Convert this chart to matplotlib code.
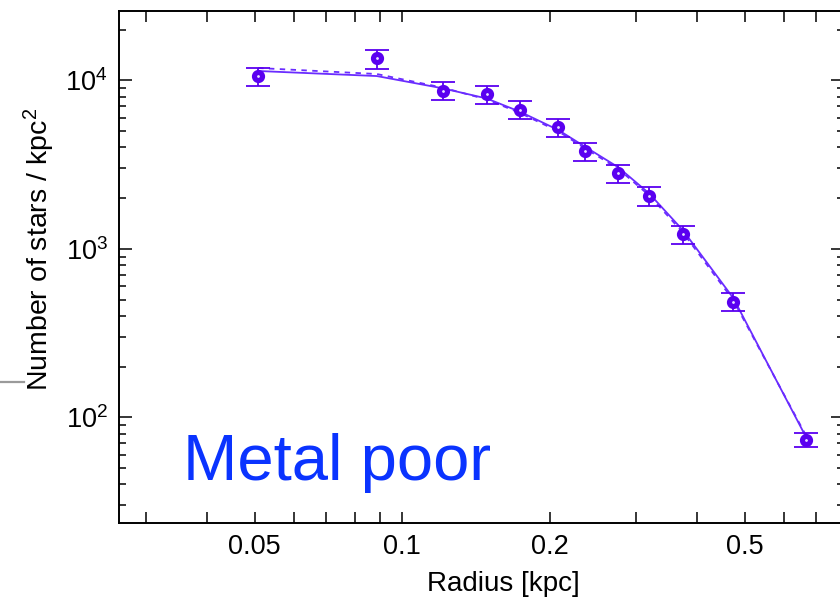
import matplotlib
matplotlib.use("Agg")
import matplotlib.pyplot as plt
from matplotlib.lines import Line2D
import numpy as np

# ---- data ----
radius = [0.0508, 0.0887, 0.1209, 0.1487, 0.1739, 0.2082, 0.2360, 0.2760, 0.3188, 0.3734, 0.4738, 0.6667]
density = [10650, 13510, 8675, 8260, 6665, 5305, 3805, 2829, 2057, 1219, 485, 73.3]
err_hi = [11880, 15130, 9810, 9290, 7540, 5920, 4262, 3155, 2317, 1371, 546, 80.4]
err_lo = [9290, 11720, 7640, 7265, 5870, 4627, 3333, 2468, 1795, 1068, 426, 66.7]
model_solid = [11357, 10600, 8965, 7800, 6510, 5070, 4036, 3046, 2135, 1294, 510, 76.4]
model_dashed = [11830, 10900, 9050, 7700, 6400, 4980, 3950, 2980, 2080, 1255, 495, 78.0]

xtick_vals = [0.03, 0.04, 0.05, 0.06, 0.07, 0.08, 0.09, 0.1, 0.2, 0.3, 0.4, 0.5, 0.6, 0.7]
xtick_labels = {0.05: "0.05", 0.1: "0.1", 0.2: "0.2", 0.5: "0.5"}
ytick_vals = [1e2, 1e3, 1e4]
ytick_labels = [r"$10^2$", r"$10^3$", r"$10^4$"]

plt.rcParams['font.family'] = ['Liberation Sans', 'DejaVu Sans']
plt.rcParams['mathtext.fontset'] = 'custom'
plt.rcParams['mathtext.rm'] = 'Liberation Sans'
plt.rcParams['mathtext.it'] = 'Liberation Sans'

fig = plt.figure(figsize=(8.4, 6.01), dpi=100)
ax = fig.add_axes([119/840, 78/601, (844-119)/840, (523-11)/601])

line_col = '#6a2cff'
pt_col = '#5a00f0'

ax.plot(radius, model_solid, '-', color=line_col, lw=1.3, zorder=2)
ax.plot(radius, model_dashed, '--', color=line_col, lw=1.3, dashes=(3, 3), zorder=2)

d = np.array(density)
yerr = np.array([d - np.array(err_lo), np.array(err_hi) - d])
ax.errorbar(radius, density, yerr=yerr, fmt='none', ecolor=pt_col, elinewidth=1.3,
            capsize=8.6, capthick=1.3, zorder=3)
ax.plot(radius, density, 'o', ms=5.8, mfc='#e8e0ff', mec=pt_col, mew=3.7, ls='none', zorder=4)

ax.set_xscale('log')
ax.set_yscale('log')
ax.set_xlim(0.02642, 0.797)
ax.set_ylim(23.6, 25780)

ax.set_xticks(xtick_vals)
ax.set_xticklabels([xtick_labels.get(v, "") for v in xtick_vals])
ax.xaxis.set_minor_locator(matplotlib.ticker.NullLocator())
ax.set_yticks(ytick_vals)
ax.set_yticklabels(ytick_labels)
ax.yaxis.set_minor_locator(matplotlib.ticker.LogLocator(base=10, subs=np.arange(2, 10)))
ax.yaxis.set_minor_formatter(matplotlib.ticker.NullFormatter())

ax.tick_params(axis='both', which='both', direction='in', top=True, right=True, width=1.1, labelsize=19.5)
ax.tick_params(axis='x', which='major', length=8, pad=8)
ax.tick_params(axis='y', which='major', length=9.4, pad=8)
ax.tick_params(axis='y', which='minor', length=5)
for s in ax.spines.values():
    s.set_linewidth(1.4)

ax.set_xlabel("Radius [kpc]", fontsize=20)
ax.xaxis.set_label_coords((503-119)/725, (523-571)/512)
ax.set_ylabel("Number of stars / kpc$^2$", fontsize=20.5)
ax.yaxis.set_label_coords((57-119)/725, (523-249)/512)

fig.text(182.7/840, (601-480)/601, "Metal poor", fontsize=47, color='#0a33ff', va='baseline', ha='left')

fig.add_artist(Line2D([0, 24/840], [(601-382)/601]*2, color='#9a9a9a', lw=1.6, transform=fig.transFigure))

fig.savefig("out.png", dpi=100)
